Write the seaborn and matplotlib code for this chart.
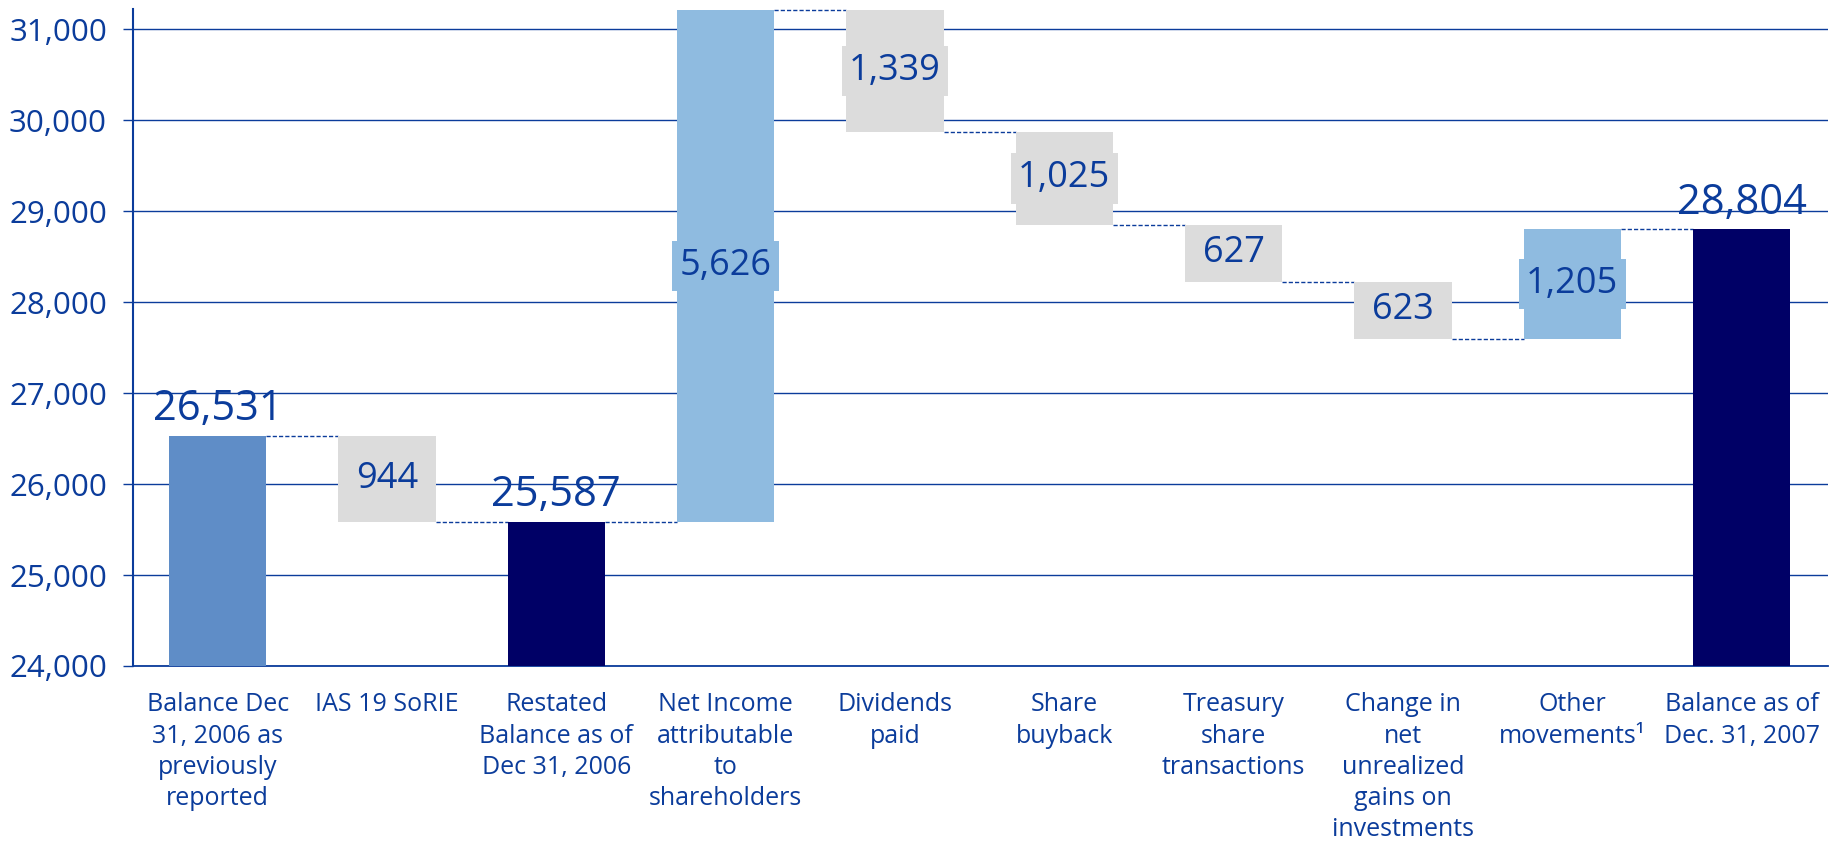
import pandas as pd
import matplotlib.pyplot as plt
import numpy as np
import seaborn as sns

# waterfall steps, values in EUR mn
steps = ["Balance Dec\n31, 2006 as\npreviously\nreported",
         "IAS 19 SoRIE",
         "Restated\nBalance as of\nDec 31, 2006",
         "Net Income\nattributable\nto\nshareholders",
         "Dividends\npaid",
         "Share\nbuyback",
         "Treasury\nshare\ntransactions",
         "Change in\nnet\nunrealized\ngains on\ninvestments",
         "Other\nmovements\u00b9",
         "Balance as of\nDec. 31, 2007"]
kinds = ["total", "down", "total", "up", "down", "down", "down", "down", "up", "total"]
values = [26531, 944, 25587, 5626, 1339, 1025, 627, 623, 1205, 28804]
yticks = [24000, 25000, 26000, 27000, 28000, 29000, 30000, 31000]

BLUE = "#0b3c9b"
bar_colors = ["#5f8dc7", "#dcdcdc", "#000066", "#8fbbe0", "#dcdcdc",
              "#dcdcdc", "#dcdcdc", "#dcdcdc", "#8fbbe0", "#000066"]

# build bottoms / heights for the floating bars
low, high = [], []
level = 0
for k, v in zip(kinds, values):
    if k == "total":
        low.append(0)
        high.append(v)
        level = v
    elif k == "up":
        low.append(level)
        high.append(level + v)
        level = level + v
    else:
        low.append(level - v)
        high.append(level)
        level = level - v

df = pd.DataFrame({"step": [str(i) for i in range(len(steps))],
                   "low": low, "size": np.array(high) - np.array(low)})

sns.set_style("white")
plt.rcParams["font.family"] = ["Open Sans", "DejaVu Sans"]

fig = plt.figure(figsize=(18.39, 8.43), dpi=100)
ax = fig.add_axes([0.0723, 0.21, 0.9217, 0.779])

bw = 0.574
sns.barplot(data=df, x="step", y="size", bottom=df["low"].values, width=bw,
            color="#dcdcdc", saturation=1, linewidth=0, ax=ax, zorder=3)
for p, c in zip(ax.patches, bar_colors):
    p.set_facecolor(c)
    p.set_edgecolor(c)

ax.set_ylim(24000, 31220)
ax.set_xlim(-0.5, 9.51)

# dashed connectors
levels = []
level = 0
for k, v in zip(kinds, values):
    if k == "total":
        level = v
    elif k == "up":
        level += v
    else:
        level -= v
    levels.append(level)
for i in range(len(steps) - 1):
    ax.plot([i + bw / 2, i + 1 - bw / 2], [levels[i], levels[i]], color=BLUE,
            lw=1.0, ls=(0, (3, 1.5)), zorder=2)

# labels
for i, (k, v) in enumerate(zip(kinds, values)):
    if k == "total":
        ax.annotate(f"{v:,}", (i, high[i]), xytext=(0, 11), textcoords="offset points",
                    ha="center", va="baseline", fontsize=30, color=BLUE, zorder=5)
    else:
        ax.text(i, (low[i] + high[i]) / 2, f"{v:,}", ha="center", va="center",
                fontsize=26, color=BLUE, zorder=5,
                bbox=dict(boxstyle="square,pad=0.2", fc=bar_colors[i], ec="none"))

ax.set_yticks(yticks)
ax.set_yticklabels([f"{t:,}" for t in yticks])
ax.set_xticks(range(len(steps)))
ax.set_xticklabels(steps)
ax.set_xlabel("")
ax.set_ylabel("")

ax.yaxis.grid(True, color=BLUE, lw=1.0, zorder=0)
ax.set_axisbelow(True)
ax.tick_params(axis="y", length=7.2, width=1.0, color=BLUE, pad=11.5,
               labelsize=22.5, labelcolor=BLUE, left=True)
ax.tick_params(axis="x", length=0, pad=19, labelsize=18, labelcolor=BLUE)
for t in ax.get_xticklabels():
    t.set_linespacing(1.33)

for s in ["top", "right"]:
    ax.spines[s].set_visible(False)
ax.spines["left"].set_color(BLUE)
ax.spines["left"].set_linewidth(1.5)
ax.spines["bottom"].set_color(BLUE)
ax.spines["bottom"].set_linewidth(1.3)

fig.savefig("out.png", dpi=100)
